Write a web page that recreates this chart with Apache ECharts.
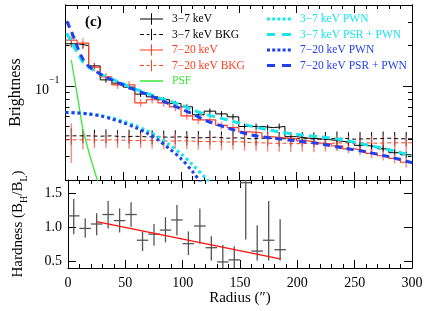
<!DOCTYPE html>
<html><head><meta charset="utf-8">
<script src="https://cdn.jsdelivr.net/npm/echarts@6/dist/echarts.min.js"></script>
<style>html,body{margin:0;padding:0;background:#fff}#c{width:429px;height:311px}</style>
</head><body><div id="c"></div>
<script>
// ---------- data ----------
const binCenters = [5,15,25,35,45,55,65,75,85,95,105,115,125,135,145,155,165,175,185,195,205,215,225,235,245,255,265,275,285,295];
const binHalfWidth = 5;
const bright37 = [0.206,0.200,0.141,0.111,0.105,0.098,0.087,0.083,0.079,0.074,0.070,0.061,0.065,0.062,0.059,0.050,0.050,0.049,0.050,0.042,0.041,0.0405,0.0398,0.0388,0.0378,0.0362,0.0353,0.0341,0.0319,0.0308];
const bright37Err = [0.012,0.010,0.007,0.005,0.005,0.004,0.004,0.004,0.0035,0.0035,0.003,0.003,0.003,0.003,0.003,0.0025,0.0025,0.0025,0.0025,0.0022,0.0022,0.0022,0.002,0.002,0.002,0.002,0.002,0.002,0.0018,0.0018];
const bright720 = [0.219,0.208,0.138,0.117,0.102,0.102,0.075,0.079,0.075,0.070,0.060,0.056,0.056,0.051,0.049,0.0456,0.0449,0.0419,0.0412,0.0405,0.0391,0.0378,0.0372,0.0359,0.0341,0.0330,0.0316,0.0303,0.0290,0.0271];
const bright720Err = [0.025,0.018,0.010,0.008,0.007,0.007,0.005,0.005,0.005,0.005,0.004,0.004,0.004,0.0035,0.0035,0.003,0.003,0.003,0.003,0.003,0.0028,0.0028,0.0028,0.0026,0.0026,0.0025,0.0025,0.0024,0.0024,0.0023];
const bkg37 = [0.0426,0.0426,0.0423,0.0426,0.0419,0.0423,0.0419,0.0419,0.0416,0.0419,0.0412,0.0412,0.0416,0.0409,0.0412,0.0405,0.0409,0.0409,0.0405,0.0405,0.0405,0.0402,0.0405,0.0409,0.0402,0.0405,0.0405,0.0409,0.0405,0.0405];
const bkg37Err = [0.006,0.005,0.005,0.005,0.005,0.005,0.005,0.005,0.005,0.005,0.005,0.005,0.005,0.005,0.005,0.005,0.005,0.005,0.005,0.005,0.005,0.005,0.005,0.005,0.005,0.005,0.005,0.005,0.005,0.005];
const bkg720 = [0.0398,0.0398,0.0395,0.0398,0.0395,0.0392,0.0395,0.0392,0.0389,0.0392,0.0389,0.0386,0.0386,0.0383,0.0386,0.0380,0.0378,0.0375,0.0375,0.0372,0.0375,0.0372,0.0375,0.0378,0.0375,0.0378,0.0375,0.0378,0.0378,0.0378];
const bkg720Err = [0.013,0.006,0.005,0.005,0.005,0.005,0.005,0.005,0.005,0.005,0.005,0.005,0.005,0.005,0.005,0.005,0.005,0.005,0.005,0.005,0.005,0.005,0.005,0.005,0.005,0.005,0.005,0.005,0.005,0.005];
const psfR = [5,10,15,20,25,28];
const psfVal = [0.156,0.087,0.0475,0.0327,0.0233,0.0195];
const pwnR = [0,10,20,30,40,50,60,70,80,90,100,110,120,130];
const pwn37 = [0.0636,0.0631,0.0620,0.0604,0.0579,0.0546,0.0510,0.0468,0.0419,0.0366,0.0314,0.0260,0.0212,0.0170];
const pwn720 = [0.0636,0.0631,0.0620,0.0599,0.0569,0.0532,0.0493,0.0449,0.0398,0.0341,0.0288,0.0231,0.0179,0.0150];
const totR = [1,5,10,15,20,30,40,50,60,70,80,90,100,110,120,140,160,180,200,220,240,260,280,300];
const tot37 = [0.2469,0.2118,0.1786,0.1506,0.1382,0.1227,0.1127,0.1035,0.0950,0.0887,0.0822,0.0774,0.0723,0.0664,0.0620,0.0560,0.0505,0.0464,0.0437,0.0419,0.0398,0.0366,0.0336,0.0303];
const tot720 = [0.3031,0.2555,0.1978,0.1585,0.1406,0.1227,0.1108,0.1017,0.0934,0.0873,0.0801,0.0736,0.0675,0.0620,0.0560,0.0489,0.0434,0.0408,0.0391,0.0372,0.0347,0.0324,0.0298,0.0269];
const hardR = [5,15,25,35,45,55,65,75,85,95,105,115,125,135,145,155,165,175,185];
const hardVal = [1.17,0.985,1.05,1.19,1.10,1.19,0.81,0.90,0.96,1.11,0.76,1.02,0.70,0.49,0.52,1.66,0.65,0.81,0.67];
const hardLo = [0.90,0.85,0.885,0.985,0.925,1.01,0.65,0.73,0.78,0.88,0.59,0.76,0.51,0.25,0.32,0.82,0.51,0.51,0.51];
const hardHi = [1.42,1.13,1.21,1.39,1.28,1.37,0.94,1.05,1.15,1.33,0.94,1.28,0.87,0.74,0.72,2.50,1.03,1.39,1.12];
const fitR = [25,185];
const fitVal = [1.085,0.535];
const logMinorTicks = [0.02,0.03,0.04,0.05,0.06,0.07,0.08,0.09,0.2,0.3,0.4];
const logMajorTicks = [0.1];
const hardTicks = [0.5,1.0,1.5];

// ---------- style ----------
const F = 'Liberation Serif';
const cBlack = '#000000', cRed = '#ff3c1e', cRedErr = 'rgba(240,105,90,0.75)';
const cGreen = '#3ae83a', cCyan = '#18e6ec', cBlue = '#1f3ff2', cGray = '#555555';

function stepData(vals){
  const d = binCenters.map((c,i)=>[c-binHalfWidth, vals[i]]);
  d.push([binCenters[binCenters.length-1]+binHalfWidth, vals[vals.length-1]]);
  return d;
}
function errData(vals, errs){ return binCenters.map((c,i)=>[c, vals[i]-errs[i], vals[i]+errs[i]]); }
function pairs(xs, ys){ return xs.map((x,i)=>[x, ys[i]]); }

function errSeries(data, color, width){
  return {type:'custom', xAxisIndex:0, yAxisIndex:0, clip:true, silent:true,
    encode:{x:0, y:[1,2]}, data:data,
    renderItem:function(params, api){
      const p1 = api.coord([api.value(0), api.value(1)]);
      const p2 = api.coord([api.value(0), api.value(2)]);
      return {type:'line', shape:{x1:p1[0], y1:p1[1], x2:p2[0], y2:p2[1]}, style:{stroke:color, lineWidth:width}};
    }};
}

function xAx(grid, pos, showLabel, extra){
  return Object.assign({type:'value', gridIndex:grid, position:pos, min:0, max:300, interval:50,
    axisLine:{show:true, onZero:false, lineStyle:{color:'#000', width:1}},
    axisTick:{show:true, inside:true, length:8, lineStyle:{color:'#000'}},
    minorTick:{show:true, splitNumber:5, length:4, lineStyle:{color:'#000'}},
    axisLabel:{show:showLabel, fontFamily:F, fontSize:14, color:'#000', margin:8},
    splitLine:{show:false}, minorSplitLine:{show:false}}, extra||{});
}
function yLog(pos, major, extra){
  return Object.assign({type:'log', logBase:10, gridIndex:0, position:pos, min:0.02, max:0.4,
    axisLine:{show:true, onZero:false, lineStyle:{color:'#000'}},
    axisTick:{show:true, inside:true, length:major?9:4, customValues:major?logMajorTicks:logMinorTicks, lineStyle:{color:'#000'}},
    axisLabel:{show:(major && pos==='left'), customValues:logMajorTicks, margin:6, color:'#000',
      formatter:function(){ return '{a|10}{b|−1}'; },
      rich:{a:{fontFamily:F, fontSize:14, color:'#000', lineHeight:22, verticalAlign:'bottom'},
            b:{fontFamily:F, fontSize:10, color:'#000', lineHeight:22, verticalAlign:'top'}}},
    splitLine:{show:false}, minorTick:{show:false}}, extra||{});
}
function yHard(pos, showLabel, extra){
  return Object.assign({type:'value', gridIndex:1, position:pos, min:0.4, max:1.7,
    axisLine:{show:true, onZero:false, lineStyle:{color:'#000'}},
    axisTick:{show:true, inside:true, length:8, customValues:hardTicks, lineStyle:{color:'#000'}},
    axisLabel:{show:showLabel, customValues:hardTicks, margin:6, fontFamily:F, fontSize:14, color:'#000',
      formatter:function(v){ return v.toFixed(1); }},
    splitLine:{show:false}}, extra||{});
}

const anchors = 'M0,0h0.01v0.01h-0.01Z M23.99,11.99h0.01v0.01h-0.01Z ';
const iconCross = 'path://' + anchors + 'M0,5.5H24V6.5H0Z M11.5,0H12.5V12H11.5Z';
const iconCrossDash = 'path://' + anchors + 'M0,5.5H4V6.5H0Z M7,5.5H10V6.5H7Z M14,5.5H17V6.5H14Z M20,5.5H24V6.5H20Z M11.5,0H12.5V12H11.5Z';
const iconLine = 'path://' + anchors + 'M0,5.3H24V6.7H0Z';
const iconDots = 'path://' + anchors + 'M0,4.5h3v3h-3Z M5.2,4.5h3v3h-3Z M10.4,4.5h3v3h-3Z M15.6,4.5h3v3h-3Z M20.8,4.5h3v3h-3Z';
const iconDash = 'path://' + anchors + 'M0,4.5h8v3h-8Z M15,4.5h9v3h-9Z';

const N37 = '3−7 keV', N37B = '3−7 keV BKG', N720 = '7−20 keV', N720B = '7−20 keV BKG', NPSF = 'PSF';
const NP37 = '3−7 keV PWN', NT37 = '3−7 keV PSR + PWN', NP720 = '7−20 keV PWN', NT720 = '7−20 keV PSR + PWN';

const legendBase = {orient:'vertical', top:13, itemWidth:23, itemHeight:12, itemGap:3.5, padding:0,
  selectedMode:false, itemStyle:{borderWidth:0}, textStyle:{fontFamily:F, fontSize:11.5, padding:[0,0,0,4]}};

const option = {
  animation:false,
  backgroundColor:'#fff',
  grid:[{left:61, right:17, top:5, height:175}, {left:61, right:17, top:180, height:88}],
  xAxis:[
    xAx(0,'bottom',false),
    xAx(0,'top',false),
    xAx(1,'bottom',true,{name:'Radius (″)', nameLocation:'middle', nameGap:21,
      nameTextStyle:{fontFamily:F, fontSize:15, color:'#000'}}),
    xAx(1,'top',false)
  ],
  yAxis:[
    yLog('left', false),
    yLog('left', true, {name:'Brightness', nameLocation:'middle', nameGap:33,
      nameTextStyle:{fontFamily:F, fontSize:16, color:'#000'}}),
    yLog('right', false),
    yLog('right', true),
    yHard('left', true, {name:'Hardness (B{s|H}/B{s|L})', nameLocation:'middle', nameGap:39,
      nameTextStyle:{fontFamily:F, fontSize:15, color:'#000', lineHeight:20,
        rich:{s:{fontFamily:F, fontSize:10, color:'#000', lineHeight:21, verticalAlign:'bottom'}}}}),
    yHard('right', false)
  ],
  legend:[
    Object.assign({}, legendBase, {left:140, data:[
      {name:N37, icon:iconCross, textStyle:{color:cBlack}},
      {name:N37B, icon:iconCrossDash, textStyle:{color:cBlack}},
      {name:N720, icon:iconCross, textStyle:{color:cRed}},
      {name:N720B, icon:iconCrossDash, textStyle:{color:cRed}},
      {name:NPSF, icon:iconLine, textStyle:{color:cGreen}}
    ]}),
    Object.assign({}, legendBase, {left:267, itemWidth:24, data:[
      {name:NP37, icon:iconDots, textStyle:{color:cCyan}},
      {name:NT37, icon:iconDash, textStyle:{color:cCyan}},
      {name:NP720, icon:iconDots, textStyle:{color:cBlue}},
      {name:NT720, icon:iconDash, textStyle:{color:cBlue}}
    ]})
  ],
  graphic:[{type:'text', left:85, top:15, style:{text:'(c)', font:'bold 15px "Liberation Serif"', fill:'#000'}}],
  series:[
    {name:N37B, type:'line', xAxisIndex:0, yAxisIndex:0, step:'end', symbol:'none', color:cBlack,
      lineStyle:{color:cBlack, width:1, type:[4,3]}, data:stepData(bkg37)},
    errSeries(errData(bkg37, bkg37Err), cBlack, 1),
    {name:N720B, type:'line', xAxisIndex:0, yAxisIndex:0, step:'end', symbol:'none', color:cRed,
      lineStyle:{color:cRed, width:1, type:[4,3]}, data:stepData(bkg720)},
    errSeries(errData(bkg720, bkg720Err), cRedErr, 1.5),
    {name:N37, type:'line', xAxisIndex:0, yAxisIndex:0, step:'end', symbol:'none', color:cBlack,
      lineStyle:{color:cBlack, width:1}, data:stepData(bright37)},
    errSeries(errData(bright37, bright37Err), cBlack, 1),
    {name:N720, type:'line', xAxisIndex:0, yAxisIndex:0, step:'end', symbol:'none', color:cRed,
      lineStyle:{color:cRed, width:1.2}, data:stepData(bright720)},
    errSeries(errData(bright720, bright720Err), cRedErr, 1.5),
    {name:NPSF, type:'line', xAxisIndex:0, yAxisIndex:0, symbol:'none', color:cGreen,
      lineStyle:{color:cGreen, width:1.3}, data:pairs(psfR, psfVal)},
    {name:NP37, type:'line', xAxisIndex:0, yAxisIndex:0, symbol:'none', smooth:0.3, color:cCyan,
      lineStyle:{color:cCyan, width:3, type:[3,3]}, data:pairs(pwnR, pwn37)},
    {name:NP720, type:'line', xAxisIndex:0, yAxisIndex:0, symbol:'none', smooth:0.3, color:cBlue,
      lineStyle:{color:cBlue, width:3, type:[3,3]}, data:pairs(pwnR, pwn720)},
    {name:NT37, type:'line', xAxisIndex:0, yAxisIndex:0, symbol:'none', smooth:0.3, color:cCyan,
      lineStyle:{color:cCyan, width:3, type:[8,5]}, data:pairs(totR, tot37)},
    {name:NT720, type:'line', xAxisIndex:0, yAxisIndex:0, symbol:'none', smooth:0.3, color:cBlue,
      lineStyle:{color:cBlue, width:3, type:[7,5]}, data:pairs(totR, tot720)},
    {type:'custom', xAxisIndex:2, yAxisIndex:4, clip:true, silent:true, encode:{x:0, y:[1,2,3]},
      data:hardR.map((r,i)=>[r, hardVal[i], hardLo[i], hardHi[i]]),
      renderItem:function(params, api){
        const x = api.value(0), v = api.value(1);
        const pl = api.coord([x-binHalfWidth, v]), pr = api.coord([x+binHalfWidth, v]);
        const pt = api.coord([x, api.value(3)]), pb = api.coord([x, api.value(2)]);
        return {type:'group', children:[
          {type:'line', shape:{x1:pl[0], y1:pl[1], x2:pr[0], y2:pr[1]}, style:{stroke:cGray, lineWidth:1.3}},
          {type:'line', shape:{x1:pt[0], y1:pt[1], x2:pb[0], y2:pb[1]}, style:{stroke:cGray, lineWidth:1.3}}
        ]};
      }},
    {type:'line', xAxisIndex:2, yAxisIndex:4, symbol:'none', color:'#ff1010',
      lineStyle:{color:'#ff1010', width:1.5}, data:pairs(fitR, fitVal)}
  ]
};
const chart = echarts.init(document.getElementById('c'), null, {renderer:'canvas'});
chart.setOption(option);
</script></body></html>
